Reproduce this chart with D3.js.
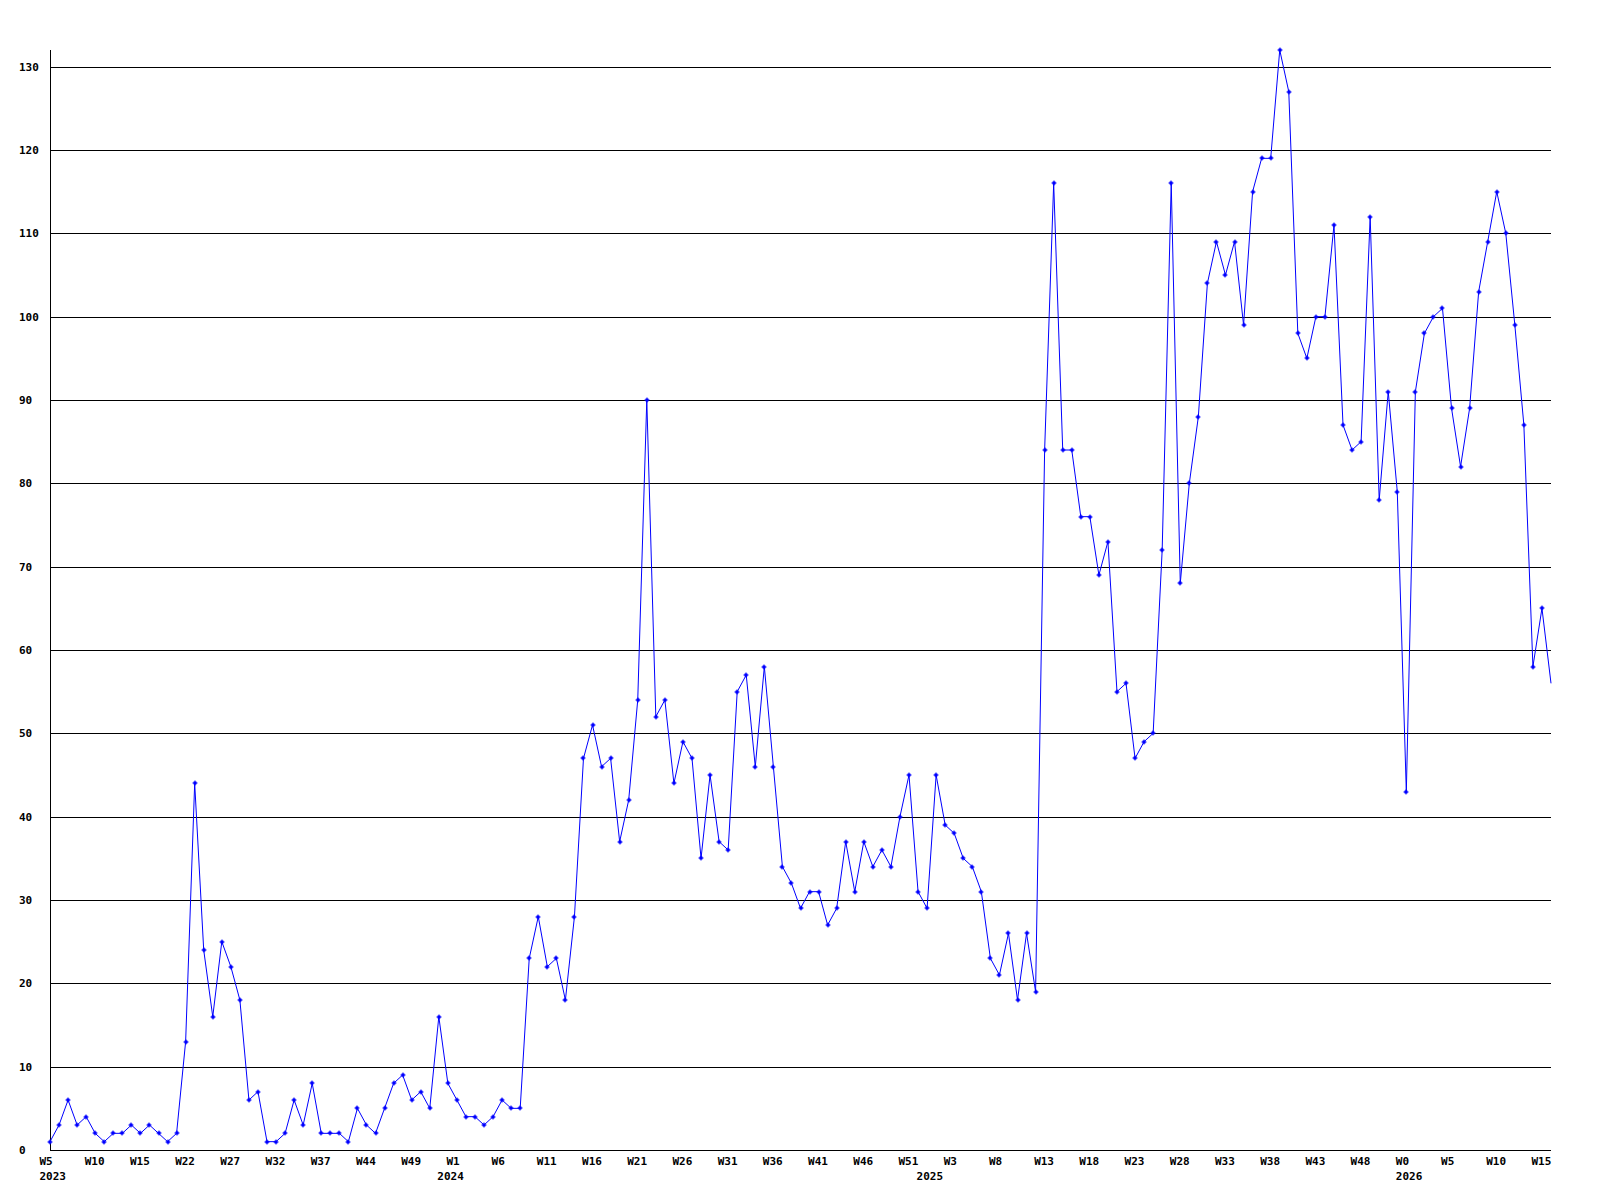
<!DOCTYPE html>
<html>
<head>
<meta charset="utf-8">
<script src="https://cdn.jsdelivr.net/npm/d3@7"></script>
<style>
  body { margin: 0; background: #fff; }
  text { font-family: "DejaVu Sans Mono", monospace; font-size: 11px; font-weight: bold; fill: #000; }
</style>
</head>
<body>
<script>
var width = 1600, height = 1200;

//Weekly counts, one per point, left to right
var values = [
  1, 3, 6, 3, 4, 2, 1, 2, 2, 3, 2, 3, 2, 1, 2,
  13, 44, 24, 16, 25, 22, 18, 6, 7, 1, 1, 2, 6, 3, 8,
  2, 2, 2, 1, 5, 3, 2, 5, 8, 9, 6, 7, 5, 16, 8,
  6, 4, 4, 3, 4, 6, 5, 5, 23, 28, 22, 23, 18, 28, 47,
  51, 46, 47, 37, 42, 54, 90, 52, 54, 44, 49, 47, 35, 45, 37,
  36, 55, 57, 46, 58, 46, 34, 32, 29, 31, 31, 27, 29, 37, 31,
  37, 34, 36, 34, 40, 45, 31, 29, 45, 39, 38, 35, 34, 31, 23,
  21, 26, 18, 26, 19, 84, 116, 84, 84, 76, 76, 69, 73, 55, 56,
  47, 49, 50, 72, 116, 68, 80, 88, 104, 109, 105, 109, 99, 115, 119,
  119, 132, 127, 98, 95, 100, 100, 111, 87, 84, 85, 112, 78, 91, 79,
  43, 91, 98, 100, 101, 89, 82, 89, 103, 109, 115, 110, 99, 87, 58,
  65, 56
];

//Week labels, one every 5 points
var weekLabels = ["W5", "W10", "W15", "W22", "W27", "W32", "W37", "W44", "W49",
  "W1", "W6", "W11", "W16", "W21", "W26", "W31", "W36", "W41", "W46", "W51",
  "W3", "W8", "W13", "W18", "W23", "W28", "W33", "W38", "W43", "W48",
  "W0", "W5", "W10", "W15"];
var labelStep = 5;

var yearLabels = ["2023", "2024", "2025", "2026"];
var yearStarts = [0, 44, 97, 150]; //point index where each year begins

var yTicks = d3.range(0, 131, 10);

var margin = {top: 50, right: 49, bottom: 50, left: 50};

var x = d3.scaleLinear() //point index -> pixel
  .domain([0, values.length - 1])
  .range([margin.left, width - margin.right]);

var y = d3.scaleLinear()
  .domain([0, 132])
  .range([height - margin.bottom, margin.top]);

var svg = d3.select("body").append("svg").attr("width", width).attr("height", height);

var px = function(v) { return Math.round(v) + 0.5; }; //crisp 1px lines

//Horizontal grid lines
svg.append("g").selectAll("line")
  .data(yTicks.filter(function(d) { return d > 0; }))
  .enter().append("line")
  .attr("x1", x(0)).attr("x2", x(values.length - 1))
  .attr("y1", function(d) { return px(y(d)); })
  .attr("y2", function(d) { return px(y(d)); })
  .attr("stroke", "#000").attr("shape-rendering", "crispEdges");

//Axis lines
svg.append("line")
  .attr("x1", px(x(0))).attr("x2", px(x(0)))
  .attr("y1", y(132)).attr("y2", px(y(0)))
  .attr("stroke", "#000").attr("shape-rendering", "crispEdges");
svg.append("line")
  .attr("x1", x(0)).attr("x2", x(values.length - 1))
  .attr("y1", px(y(0))).attr("y2", px(y(0)))
  .attr("stroke", "#000").attr("shape-rendering", "crispEdges");

//Y labels, left aligned
svg.append("g").selectAll("text")
  .data(yTicks)
  .enter().append("text")
  .attr("x", 19)
  .attr("y", function(d) { return y(d); })
  .attr("dy", "0.35em")
  .text(function(d) { return d; });

//Week labels
svg.append("g").selectAll("text")
  .data(weekLabels)
  .enter().append("text")
  .attr("x", function(d, i) { return x(i * labelStep) - 10.5; })
  .attr("y", y(0) + 11)
  .attr("dy", "0.35em")
  .text(function(d) { return d; });

//Year labels
svg.append("g").selectAll("text")
  .data(yearLabels)
  .enter().append("text")
  .attr("x", function(d, i) { return x(yearStarts[i]) - 10.5; })
  .attr("y", y(0) + 26)
  .attr("dy", "0.35em")
  .text(function(d) { return d; });

//Data line
var line = d3.line()
  .x(function(d, i) { return x(i); })
  .y(function(d) { return y(d); });

svg.append("path")
  .datum(values)
  .attr("d", line)
  .attr("fill", "none")
  .attr("stroke", "#0000ff")
  .attr("stroke-width", 1);

//Point markers (small plus/diamond), the last point sits on the edge without one
var marker = "M-2.5,-0.5H2.5V0.5H-2.5Z M-0.5,-2.5H0.5V2.5H-0.5Z M-1.5,-1.5H1.5V1.5H-1.5Z";
svg.append("g").selectAll("path")
  .data(values.slice(0, values.length - 1))
  .enter().append("path")
  .attr("d", marker)
  .attr("transform", function(d, i) { return "translate(" + Math.round(x(i)) + "," + Math.round(y(d)) + ")"; })
  .attr("fill", "#0000ff");
</script>
</body>
</html>
